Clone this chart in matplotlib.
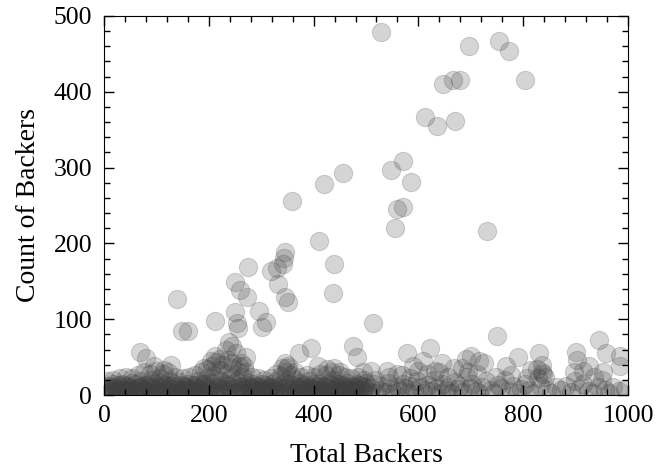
import matplotlib
matplotlib.use('Agg')
import matplotlib.pyplot as plt
from matplotlib.ticker import MultipleLocator

# points clearly above the dense band
upper_x = [529, 754, 773, 697, 803, 647, 666, 679, 613, 635, 670, 731, 571, 548, 586, 571, 559, 555,
           359, 456, 420, 410, 439, 437, 513, 345, 344, 342, 319, 330, 332, 345, 351, 275, 250, 260,
           273, 296, 309, 302, 139, 149, 160, 212, 250, 254, 256, 271, 69, 80, 945, 958, 985, 750]
upper_y = [479, 467, 454, 460, 415, 410, 415, 415, 367, 355, 362, 216, 309, 297, 281, 248, 245, 220,
           256, 293, 279, 203, 173, 135, 95, 189, 181, 173, 163, 167, 146, 129, 123, 169, 149, 138,
           129, 111, 96, 90, 127, 84, 84, 98, 110, 95, 88, 50, 57, 49, 73, 55, 38, 78]

# middle points, y about 25 to 70
mid_x = [95, 115, 128, 190, 205, 212, 222, 232, 238, 245, 252, 262, 268, 345, 350, 372, 395, 408, 425,
         438, 475, 483, 510, 540, 578, 590, 608, 622, 645, 668, 690, 700, 715, 725, 768, 790, 815, 830,
         836, 900, 903, 915, 925, 985, 835, 640, 600, 560, 495, 450]
mid_y = [38, 33, 40, 36, 45, 52, 48, 60, 70, 65, 55, 42, 38, 42, 36, 55, 62, 38, 34,
         35, 65, 50, 32, 32, 55, 38, 45, 62, 42, 35, 48, 52, 45, 42, 38, 50, 33, 55,
         40, 57, 46, 32, 38, 52, 30, 30, 32, 28, 30, 30]

# dense band, left part
band_left = [(2, 2), (5, 7), (8, 12), (11, 4), (14, 9), (17, 14), (20, 3), (23, 8), (26, 13), (29, 5),
             (32, 10), (35, 15), (38, 2), (41, 7), (44, 12), (47, 4), (50, 9), (53, 16), (56, 3), (59, 8),
             (62, 14), (65, 5), (68, 11), (71, 18), (74, 2), (77, 7), (80, 13), (83, 4), (86, 10), (89, 20),
             (92, 3), (95, 8), (98, 15), (101, 5), (104, 11), (107, 22), (110, 2), (113, 7), (116, 13),
             (119, 4), (122, 10), (125, 19), (128, 3), (131, 8), (134, 14), (137, 5), (140, 11), (143, 17),
             (146, 2), (149, 7), (152, 12), (155, 4), (158, 9), (161, 15), (164, 3), (167, 8), (170, 13),
             (173, 5), (176, 10), (179, 18), (182, 2), (185, 7), (188, 14), (191, 4), (194, 11), (197, 22),
             (200, 3), (203, 9), (206, 16), (209, 27), (212, 5), (215, 11), (218, 20), (221, 33), (224, 2),
             (227, 8), (230, 15), (233, 28), (236, 4), (239, 12), (242, 22), (245, 36), (248, 3), (251, 9),
             (254, 18), (257, 30), (260, 5), (263, 11), (266, 24), (269, 2), (272, 8), (275, 16), (278, 4),
             (281, 10), (284, 14), (287, 3), (290, 7), (293, 12), (296, 5), (299, 9), (302, 14), (305, 2),
             (308, 7), (311, 11), (314, 4), (317, 9), (320, 15), (323, 3), (326, 8), (329, 18), (332, 5),
             (335, 12), (338, 25), (341, 2), (344, 9), (347, 30), (350, 4), (353, 14), (356, 26), (359, 3),
             (362, 8), (365, 20), (368, 5), (371, 11), (374, 16), (377, 2), (380, 7), (383, 13), (386, 4),
             (389, 9), (392, 18), (395, 3), (398, 8), (401, 14), (404, 5), (407, 10), (410, 15), (413, 2),
             (416, 7), (419, 12), (422, 4), (425, 9), (428, 16), (431, 3), (434, 8), (437, 20), (440, 5),
             (443, 11), (446, 15), (449, 2), (452, 7), (455, 13), (458, 4), (461, 9), (464, 16), (467, 3),
             (470, 8), (473, 12), (476, 5), (479, 10), (482, 15), (485, 2), (488, 7), (491, 12), (494, 4),
             (497, 9), (500, 16)]

# second pass over the same band, it is close to solid in the reference
band_left2 = [(1, 5), (7, 10), (13, 6), (19, 11), (25, 2), (31, 7), (37, 13), (43, 5), (49, 11), (55, 6),
              (61, 2), (67, 9), (73, 12), (79, 5), (85, 15), (91, 7), (97, 11), (103, 3), (109, 16), (115, 9),
              (121, 5), (127, 12), (133, 2), (139, 7), (145, 13), (151, 5), (157, 11), (163, 7), (169, 2),
              (175, 13), (181, 6), (187, 10), (193, 15), (199, 7), (205, 12), (211, 3), (217, 9), (223, 18),
              (229, 6), (235, 13), (241, 8), (247, 16), (253, 5), (259, 12), (265, 7), (271, 13), (277, 10),
              (283, 6), (289, 11), (295, 2), (301, 8), (307, 13), (313, 6), (319, 11), (325, 2), (331, 10),
              (337, 6), (343, 16), (349, 11), (355, 7), (361, 13), (367, 2), (373, 9), (379, 12), (385, 6),
              (391, 11), (397, 2), (403, 7), (409, 12), (415, 5), (421, 10), (427, 2), (433, 13), (439, 7),
              (445, 10), (451, 5), (457, 12), (463, 7), (469, 11), (475, 2), (481, 8), (487, 13), (493, 6),
              (499, 11)]

# upper edge of the band, gives it the lumpy outline
band_top = [(6, 18), (18, 20), (30, 22), (42, 24), (54, 22), (64, 26), (76, 30), (88, 28), (100, 32),
            (112, 28), (122, 30), (136, 24), (150, 22), (162, 24), (174, 26), (186, 30), (196, 34),
            (206, 38), (214, 44), (226, 40), (236, 46), (244, 42), (258, 38), (270, 30), (282, 24),
            (294, 22), (306, 20), (318, 22), (328, 28), (340, 36), (352, 38), (364, 30), (376, 24),
            (388, 26), (400, 24), (412, 28), (424, 26), (436, 30), (448, 26), (460, 24), (472, 22),
            (484, 24), (496, 20), (518, 20), (544, 24), (568, 26), (584, 22), (616, 28), (632, 32),
            (656, 24), (684, 36), (694, 30), (712, 28), (748, 24), (776, 26), (808, 22), (826, 34),
            (842, 24), (896, 30), (936, 24), (952, 30)]

# dense band, right part gets thinner towards 1000
band_right = [(505, 4), (510, 9), (515, 14), (520, 2), (526, 7), (531, 12), (537, 4), (542, 16), (548, 8),
              (553, 2), (559, 11), (564, 5), (570, 15), (575, 9), (581, 3), (586, 12), (592, 6), (597, 18),
              (603, 10), (608, 3), (614, 7), (619, 13), (625, 5), (630, 20), (636, 9), (641, 2), (647, 14),
              (652, 6), (658, 11), (663, 3), (669, 17), (675, 8), (680, 12), (686, 4), (692, 24), (698, 9),
              (703, 15), (709, 5), (716, 2), (722, 11), (729, 18), (736, 6), (744, 3), (751, 13), (758, 9),
              (765, 20), (773, 5), (780, 12), (788, 2), (796, 8), (804, 15), (812, 6), (820, 3), (828, 22),
              (832, 12), (838, 28), (845, 7), (853, 3), (862, 10), (872, 6), (882, 12), (891, 4), (899, 18),
              (906, 8), (915, 14), (924, 5), (933, 2), (942, 11), (950, 20), (957, 7), (964, 3), (972, 10),
              (983, 5), (995, 8)]

dense = band_left + band_left2 + band_top + band_right
xs = upper_x + mid_x + [p[0] for p in dense]
ys = upper_y + mid_y + [p[1] for p in dense]

plt.rcParams['font.family'] = ['Liberation Serif', 'DejaVu Serif']

fig, ax = plt.subplots(figsize=(6.56, 4.71), dpi=100)
fig.subplots_adjust(left=104 / 656, right=628 / 656, top=1 - 16 / 471, bottom=1 - 395 / 471)

ax.scatter(xs, ys, s=175, color='#404040', alpha=0.22, linewidths=0.7)

ax.set_xlim(0, 1000)
ax.set_ylim(0, 500)
ax.xaxis.set_major_locator(MultipleLocator(200))
ax.xaxis.set_minor_locator(MultipleLocator(40))
ax.yaxis.set_major_locator(MultipleLocator(100))
ax.yaxis.set_minor_locator(MultipleLocator(20))
ax.tick_params(which='major', direction='in', top=True, right=True, length=7, width=1, labelsize=18.5)
ax.tick_params(which='minor', direction='in', top=True, right=True, length=4, width=1)
ax.tick_params(axis='x', pad=7)
ax.tick_params(axis='y', pad=8.5)
ax.set_xlabel('Total Backers', fontsize=20, labelpad=12)
ax.set_ylabel('Count of Backers', fontsize=20, labelpad=9)

fig.savefig('out.png', dpi=100)
